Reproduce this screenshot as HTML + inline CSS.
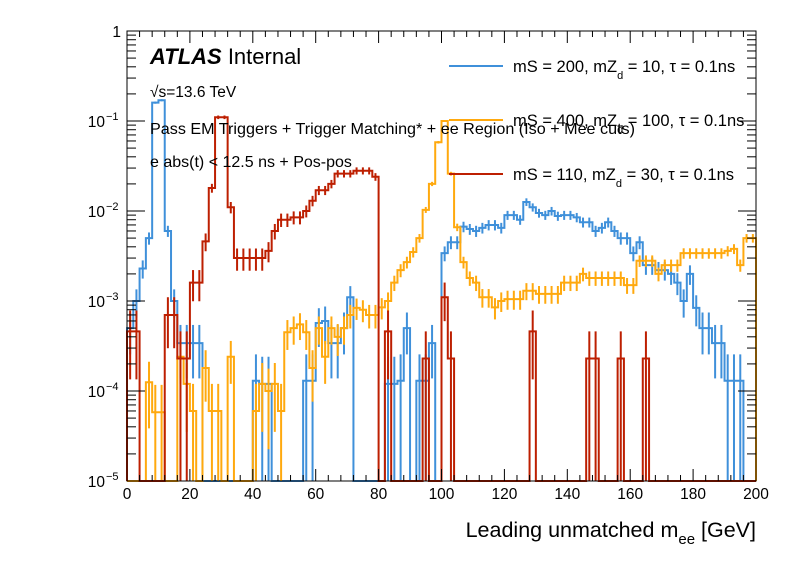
<!DOCTYPE html>
<html><head><meta charset="utf-8"><style>
body{margin:0;background:#fff;}
svg text{font-family:"Liberation Sans",sans-serif;}
</style></head><body>
<svg id="chart" width="796" height="572" xmlns="http://www.w3.org/2000/svg">
<rect width="796" height="572" fill="#fff"/>
<g id="plot"></g>
<g id="axes"></g>
<text x="150" y="64" font-size="22"><tspan font-weight="bold" font-style="italic">ATLAS</tspan> Internal</text>
<text x="150" y="97" font-size="15.5">√s=13.6 TeV</text>
<text x="150" y="134" font-size="16" textLength="485" lengthAdjust="spacingAndGlyphs">Pass EM Triggers + Trigger Matching* + ee Region (Iso + Mee cuts)</text>
<text x="150" y="167" font-size="16">e abs(t) &lt; 12.5 ns + Pos-pos</text>
<g>
<g><line x1="449" y1="66" x2="503" y2="66" stroke="#3f90da" stroke-width="2"/><text x="513" y="72" font-size="16.5">mS = 200, mZ<tspan font-size="11" dy="7">d</tspan><tspan dy="-7"> = 10, τ = 0.1ns</tspan></text></g>
<g><line x1="449" y1="120" x2="503" y2="120" stroke="#ffa90e" stroke-width="2"/><text x="513" y="126" font-size="16.5">mS = 400, mZ<tspan font-size="11" dy="7">d</tspan><tspan dy="-7"> = 100, τ = 0.1ns</tspan></text></g>
<g><line x1="449" y1="174" x2="503" y2="174" stroke="#bd1f01" stroke-width="2"/><text x="513" y="180" font-size="16.5">mS = 110, mZ<tspan font-size="11" dy="7">d</tspan><tspan dy="-7"> = 30, τ = 0.1ns</tspan></text></g>
</g>
<text x="756" y="537" font-size="21.5" text-anchor="end">Leading unmatched m<tspan font-size="15" dy="7">ee</tspan><tspan dy="-7"> [GeV]</tspan></text>
</svg>
<script>
const binWidth = 2;
const blueVals = [5e-4,1e-3,2.3e-3,5e-3,0.16,0.17,6e-3,1e-3,3.4e-4,3.4e-4,3.4e-4,3.4e-4,0,0,0,0,0,0,0,0,1.3e-4,1.2e-4,1.2e-4,0,0,0,0,0,1.3e-4,1.3e-4,5.7e-4,6e-4,3.4e-4,3.4e-4,5e-4,1.1e-3,0,0,0,0,0,1.2e-4,1.2e-4,1.3e-4,5e-4,0,1.3e-4,1.3e-4,3.4e-4,0,3.4e-3,4.5e-3,4.5e-3,6.7e-3,6.3e-3,6e-3,6.5e-3,7e-3,7e-3,6.5e-3,9e-3,9e-3,8e-3,0.0126,0.011,0.0095,0.009,0.01,0.0088,0.009,0.009,0.0085,0.0075,0.0075,0.006,0.0065,0.0075,0.006,0.005,0.005,3.4e-3,4.5e-3,2.5e-3,2.5e-3,2.2e-3,2.2e-3,2e-3,1.6e-3,1e-3,2e-3,8.4e-4,5e-4,5e-4,3.4e-4,3.4e-4,1.3e-4,1.3e-4,1.3e-4,0,0];
const orangeVals = [0,0,0,1.25e-4,5.8e-5,5.8e-5,0,0,2.4e-4,1.2e-4,6e-5,0,1.8e-4,6e-5,6e-5,0,2.4e-4,0,0,0,6e-5,1.2e-4,1e-4,1.2e-4,6e-5,4.5e-4,5e-4,5.5e-4,4.5e-4,1.8e-4,5e-4,2.4e-4,5e-4,4e-4,5e-4,7e-4,8.4e-4,8e-4,7e-4,7e-4,8.5e-4,1e-3,1.6e-3,2.2e-3,2.7e-3,3.5e-3,5e-3,0.0103,0.02,0.058,0.1,0.026,6.6e-3,2.7e-3,1.8e-3,1.6e-3,1.1e-3,1.1e-3,8.5e-4,1e-3,1.05e-3,1.05e-3,1.05e-3,1.3e-3,1.3e-3,1.2e-3,1.2e-3,1.2e-3,1.2e-3,1.6e-3,1.6e-3,1.6e-3,2e-3,1.8e-3,1.8e-3,1.8e-3,1.8e-3,1.8e-3,1.8e-3,1.5e-3,1.5e-3,2.8e-3,2.8e-3,2.8e-3,2e-3,2.5e-3,2.5e-3,2.5e-3,3.4e-3,3.4e-3,3.4e-3,3.4e-3,3.4e-3,3.4e-3,3.4e-3,3.6e-3,3.8e-3,2.5e-3,5e-3,5e-3];
const redVals = [4.6e-4,4.6e-4,0,0,0,0,7e-4,7e-4,2.3e-4,2.3e-4,1.6e-3,1.6e-3,4.6e-3,0.018,0.11,0.11,0.011,3e-3,3e-3,3e-3,3e-3,3e-3,3.6e-3,6e-3,8e-3,8e-3,8.5e-3,8.5e-3,0.01,0.013,0.017,0.017,0.02,0.026,0.026,0.026,0.028,0.028,0.028,0.024,0,4.6e-4,0,0,0,0,0,2.3e-4,0,0,1.1e-3,2.3e-4,0,0,0,0,0,0,0,0,0,0,0,0,4.6e-4,0,0,0,0,0,0,0,0,2.3e-4,2.3e-4,0,0,0,2.3e-4,0,0,0,2.3e-4,0,0,0,0,0,0,0,0,0,0,0,0,0,0,0,0,0];
const xTicks = [0,20,40,60,80,100,120,140,160,180,200];
const yDecades = [0,-1,-2,-3,-4,-5];
const yLabels = ["1","10","10","10","10","10"];
const yExps = ["","−1","−2","−3","−4","−5"];

const X0=127,X1=756,Y0=31,Y1=481,XMAX=200,DEC=(Y1-Y0)/5;
const NS='http://www.w3.org/2000/svg';
function xs(v){return X0+(v/XMAX)*(X1-X0);}
function ys(v){if(v<=0)return Y1;const y=Y0+(-Math.log10(v))*DEC;return Math.min(Y1,Math.max(Y0,y));}
function mk(tag,attrs,parent){const e=document.createElementNS(NS,tag);for(const k in attrs)e.setAttribute(k,attrs[k]);parent.appendChild(e);return e;}
const plot=document.getElementById('plot');
const axes=document.getElementById('axes');
function drawHist(vals,color,unit,name){
  const g=mk('g',{},plot);
  
  
  let d='M'+xs(0)+','+Y1;
  vals.forEach((v,i)=>{const y=ys(v);d+=' L'+xs(i*binWidth)+','+y+' L'+xs((i+1)*binWidth)+','+y;});
  d+=' L'+xs(vals.length*binWidth)+','+Y1;
  const p=mk('path',{d:d,fill:'none',stroke:color,'stroke-width':2},g);
  
  
  vals.forEach((v,i)=>{
    if(v<=0)return;
    const err=Math.sqrt(v*unit);
    const cx=xs((i+0.5)*binWidth);
    const l=mk('line',{x1:cx,x2:cx,y1:ys(v+err),y2:ys(Math.max(v-err,1e-6)),stroke:color,'stroke-width':2},g);
    
    
  });
}
drawHist(blueVals,'#3f90da',1.2e-4,'blue');
drawHist(orangeVals,'#ffa90e',6e-5,'orange');
drawHist(redVals,'#bd1f01',2.3e-4,'red');
const fr=mk('rect',{x:X0,y:Y0,width:X1-X0,height:Y1-Y0,fill:'none',stroke:'#000','stroke-width':1},axes);


for(let v=0;v<=XMAX;v+=4){
  const major=v%20===0;const L=major?12:6;const x=xs(v);
  mk('line',{x1:x,x2:x,y1:Y1,y2:Y1-L,stroke:'#000'},axes);
  mk('line',{x1:x,x2:x,y1:Y0,y2:Y0+L,stroke:'#000'},axes);
}
xTicks.forEach(v=>{
  const t=mk('text',{x:xs(v),y:Y1+18,'font-size':15.5,'text-anchor':'middle'},axes);
  t.textContent=v;
  
  
});
yDecades.forEach((e,i)=>{
  const y=ys(Math.pow(10,e));
  mk('line',{x1:X0,x2:X0+18,y1:y,y2:y,stroke:'#000'},axes);
  mk('line',{x1:X1,x2:X1-18,y1:y,y2:y,stroke:'#000'},axes);
  if(e>-5){for(let m=2;m<=9;m++){const yy=ys(m*Math.pow(10,e-1));
    mk('line',{x1:X0,x2:X0+9,y1:yy,y2:yy,stroke:'#000'},axes);
    mk('line',{x1:X1,x2:X1-9,y1:yy,y2:yy,stroke:'#000'},axes);}}
  const t=mk('text',{x:yExps[i]?X0-22:X0-6,y:y+6,'font-size':15.5,'text-anchor':'end'},axes);
  t.textContent=yLabels[i];
  
  
  if(yExps[i]){const s=mk('text',{x:X0-21,y:y-1,'font-size':11,'text-anchor':'start'},axes);s.textContent=yExps[i];
    
    }
});
</script>
</body></html>
